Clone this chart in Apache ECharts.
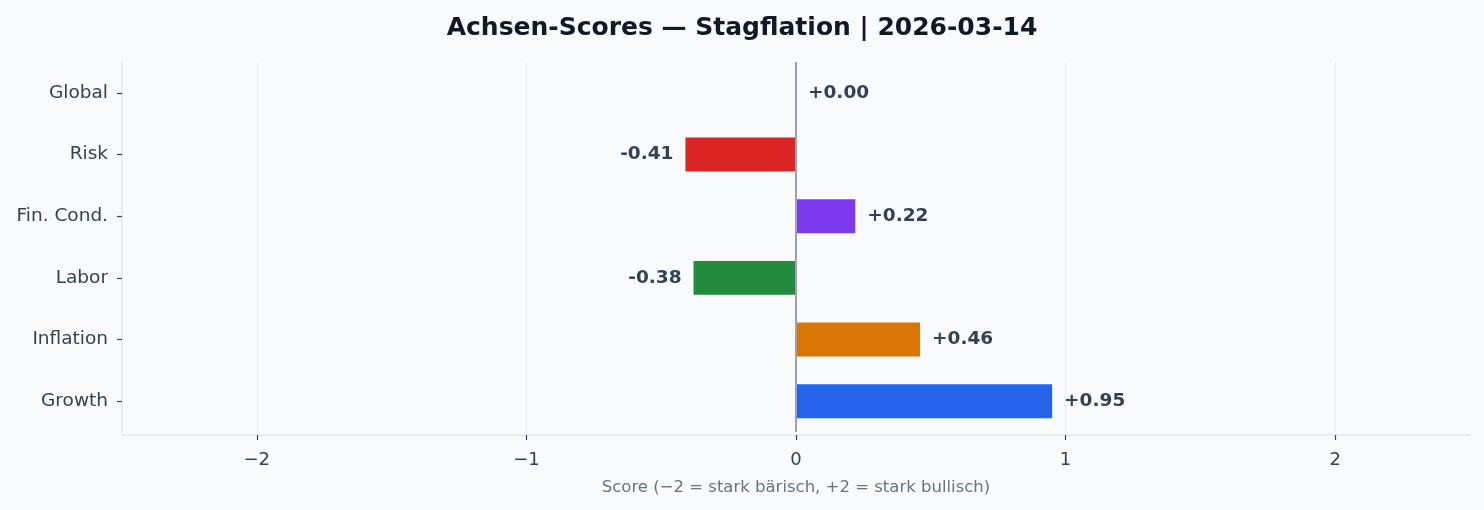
<!DOCTYPE html>
<html>
<head>
<meta charset="utf-8">
<script src="https://cdn.jsdelivr.net/npm/echarts@6/dist/echarts.min.js"></script>
<style>
  html, body { margin: 0; padding: 0; background: #f8fafc; }
  #chart { width: 1484px; height: 510px; }
</style>
</head>
<body>
<div id="chart"></div>
<script>
// Data (bottom to top)
const categories = ['Growth', 'Inflation', 'Labor', 'Fin. Cond.', 'Risk', 'Global'];
const scores = [0.95, 0.46, -0.38, 0.22, -0.41, 0.00];
const barColors = ['#2563eb', '#d97706', '#228b3e', '#7c3aed', '#dc2626', '#9ca3af'];
const xTicks = [-2, -1, 0, 1, 2];
const titleText = 'Achsen-Scores — Stagflation | 2026-03-14';
const xAxisTitle = 'Score (−2 = stark bärisch, +2 = stark bullisch)';

const FONT = 'DejaVu Sans';
const chart = echarts.init(document.getElementById('chart'), null, { renderer: 'canvas' });

const fmt = v => (v >= 0 ? '+' : '') + v.toFixed(2);

const seriesData = scores.map((v, i) => ({
  value: v,
  itemStyle: { color: barColors[i] },
  label: { position: v < 0 ? 'left' : 'right' }
}));

chart.setOption({
  backgroundColor: '#f8fafc',
  animation: false,
  title: {
    text: titleText,
    left: 'center',
    top: 16,
    padding: 0,
    textStyle: { fontFamily: FONT, fontSize: 25, fontWeight: 'bold', color: '#111827' }
  },
  grid: { left: 122, right: 14, top: 62, bottom: 78, containLabel: false },
  xAxis: {
    type: 'value',
    min: -2.5,
    max: 2.5,
    offset: 3,
    name: xAxisTitle,
    nameLocation: 'middle',
    nameGap: 44,
    nameTextStyle: { fontFamily: FONT, fontSize: 16.5, color: '#6b7280' },
    axisLine: { show: true, onZero: false, lineStyle: { color: '#e5e7eb', width: 1.5 } },
    axisTick: { show: true, customValues: xTicks, length: 5, lineStyle: { color: '#374151', width: 1.2 } },
    axisLabel: {
      customValues: xTicks,
      margin: 16,
      fontFamily: FONT, fontSize: 18, color: '#374151',
      formatter: v => (v < 0 ? '−' + Math.abs(v) : String(v))
    },
    splitLine: { show: true, lineStyle: { color: '#e9ebee', width: 1 } }
  },
  yAxis: {
    type: 'category',
    data: categories,
    axisLine: { show: true, onZero: false, lineStyle: { color: '#e5e7eb', width: 1.5 } },
    axisTick: { show: true, alignWithLabel: true, length: 5, lineStyle: { color: '#374151', width: 1.2 } },
    axisLabel: { margin: 14, fontFamily: FONT, fontSize: 18.5, color: '#374151' },
    splitLine: { show: false }
  },
  series: [{
    type: 'bar',
    data: seriesData,
    barWidth: '55%',
    label: {
      show: true,
      distance: 12,
      fontFamily: FONT,
      fontSize: 18.5,
      fontWeight: 'bold',
      color: '#334155',
      formatter: p => fmt(p.value)
    },
    markLine: {
      silent: true,
      symbol: 'none',
      label: { show: false },
      lineStyle: { color: '#9ca3af', width: 2, type: 'solid' },
      data: [{ xAxis: 0 }]
    }
  }]
});
</script>
</body>
</html>
